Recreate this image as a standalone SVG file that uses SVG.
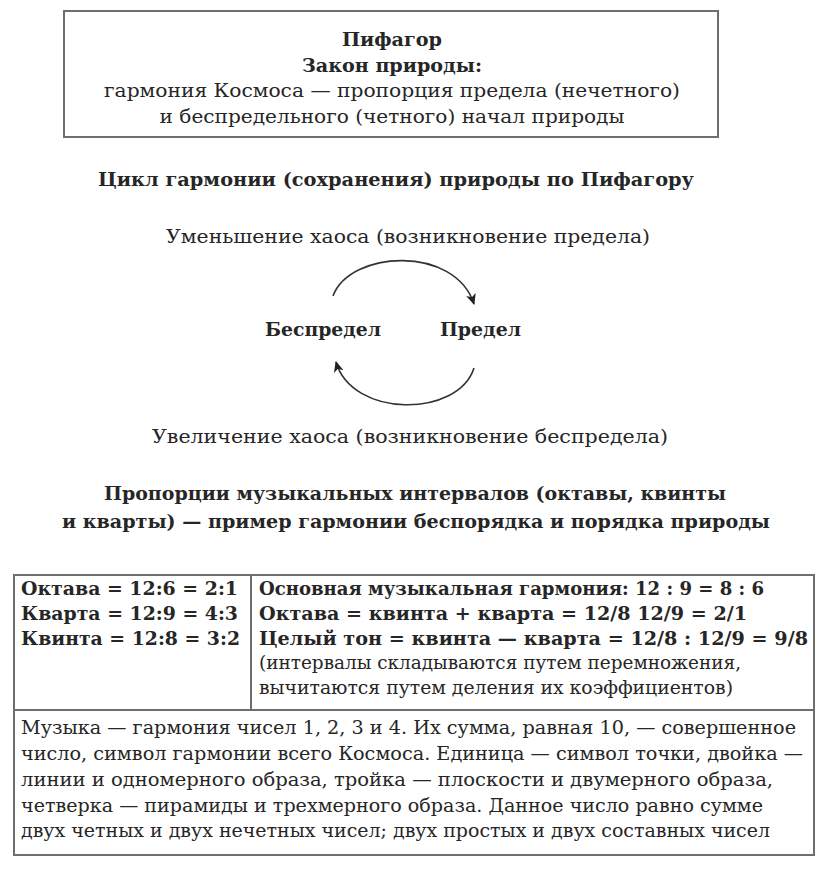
<svg xmlns="http://www.w3.org/2000/svg" width="828" height="876" viewBox="0 0 828 876">
<style>
text{font-family:"DejaVu Serif","Liberation Serif",serif;font-size:18px;fill:#262626}
.b{font-weight:bold}
.m{text-anchor:middle}
.box{fill:#fff;stroke:#6e6e6e;stroke-width:2}
.ln{stroke:#6e6e6e;stroke-width:2;fill:none}
.arc{fill:none;stroke:#333;stroke-width:1.6}
</style>
<defs>
<marker id="ah" markerWidth="12" markerHeight="12" refX="10" refY="6" orient="auto" markerUnits="userSpaceOnUse">
<path d="M0,1 L11,6 L0,11 L3,6 Z" fill="#222"/>
</marker>
</defs>
<rect width="828" height="876" fill="#fff"/>

<g id="law">
<rect class="box" x="64" y="11" width="654" height="126"/>
<text class="b m" x="392" y="46" textLength="100" lengthAdjust="spacingAndGlyphs">Пифагор</text>
<text class="b m" x="392" y="72" textLength="180" lengthAdjust="spacingAndGlyphs">Закон природы:</text>
<text class="m" x="392" y="97" textLength="576" lengthAdjust="spacingAndGlyphs">гармония Космоса — пропорция предела (нечетного)</text>
<text class="m" x="392" y="123" textLength="465" lengthAdjust="spacingAndGlyphs">и беспредельного (четного) начал природы</text>
</g>

<g id="cycle-title">
<text class="b m" x="396" y="186" textLength="596" lengthAdjust="spacingAndGlyphs">Цикл гармонии (сохранения) природы по Пифагору</text>
</g>

<g id="label-top">
<text class="m" x="408" y="243" textLength="484" lengthAdjust="spacingAndGlyphs">Уменьшение хаоса (возникновение предела)</text>
</g>

<g id="bespredel">
<text class="b" x="265" y="336" textLength="116" lengthAdjust="spacingAndGlyphs">Беспредел</text>
</g>

<g id="predel">
<text class="b" x="440" y="336" textLength="81" lengthAdjust="spacingAndGlyphs">Предел</text>
</g>

<g id="label-bottom">
<text class="m" x="410" y="443" textLength="516" lengthAdjust="spacingAndGlyphs">Увеличение хаоса (возникновение беспредела)</text>
</g>

<g id="connectors">
<path class="arc" d="M333,296 C350,250 455,245 474,304" marker-end="url(#ah)"/>
<path class="arc" d="M474,368 C458,418 352,418 336,362" marker-end="url(#ah)"/>
</g>

<g id="proportions-title">
<text class="b m" x="415" y="500" textLength="622" lengthAdjust="spacingAndGlyphs">Пропорции музыкальных интервалов (октавы, квинты</text>
<text class="b m" x="416" y="528" textLength="708" lengthAdjust="spacingAndGlyphs">и кварты) — пример гармонии беспорядка и порядка природы</text>
</g>

<g id="table">
<rect class="box" x="14" y="575" width="800" height="280"/>
<line class="ln" x1="251" y1="575" x2="251" y2="710"/>
<line class="ln" x1="14" y1="710" x2="814" y2="710"/>
</g>

<g id="intervals">
<text class="b" x="21" y="595" textLength="217" lengthAdjust="spacingAndGlyphs">Октава = 12:6 = 2:1</text>
<text class="b" x="21" y="620" textLength="217" lengthAdjust="spacingAndGlyphs">Кварта = 12:9 = 4:3</text>
<text class="b" x="21" y="645" textLength="219" lengthAdjust="spacingAndGlyphs">Квинта = 12:8 = 3:2</text>
</g>

<g id="harmony">
<text class="b" x="259" y="595" textLength="505" lengthAdjust="spacingAndGlyphs">Основная музыкальная гармония: 12 : 9 = 8 : 6</text>
<text class="b" x="259" y="620" textLength="488" lengthAdjust="spacingAndGlyphs">Октава = квинта + кварта = 12/8 12/9 = 2/1</text>
<text class="b" x="259" y="645" textLength="549" lengthAdjust="spacingAndGlyphs">Целый тон = квинта — кварта = 12/8 : 12/9 = 9/8</text>
<text x="259" y="669" textLength="482" lengthAdjust="spacingAndGlyphs">(интервалы складываются путем перемножения,</text>
<text x="259" y="694" textLength="474" lengthAdjust="spacingAndGlyphs">вычитаются путем деления их коэффициентов)</text>
</g>

<g id="music">
<text x="21" y="734" textLength="775" lengthAdjust="spacingAndGlyphs">Музыка — гармония чисел 1, 2, 3 и 4. Их сумма, равная 10, — совершенное</text>
<text x="21" y="760" textLength="782" lengthAdjust="spacingAndGlyphs">число, символ гармонии всего Космоса. Единица — символ точки, двойка —</text>
<text x="21" y="786" textLength="752" lengthAdjust="spacingAndGlyphs">линии и одномерного образа, тройка — плоскости и двумерного образа,</text>
<text x="21" y="812" textLength="742" lengthAdjust="spacingAndGlyphs">четверка — пирамиды и трехмерного образа. Данное число равно сумме</text>
<text x="21" y="837" textLength="749" lengthAdjust="spacingAndGlyphs">двух четных и двух нечетных чисел; двух простых и двух составных чисел</text>
</g>
</svg>
